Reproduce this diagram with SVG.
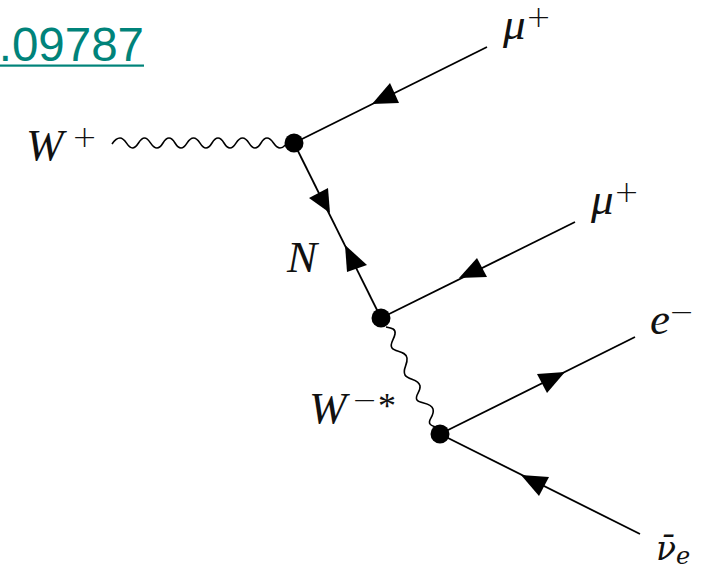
<svg xmlns="http://www.w3.org/2000/svg" width="717" height="569" viewBox="0 0 717 569">
<style>
.l{fill:none;stroke:#000;stroke-width:1.8}
.w{fill:none;stroke:#000;stroke-width:1.6;stroke-linejoin:round}
.a{fill:#000;stroke:none}
.v{fill:#000}
.t{font-family:"Liberation Serif",serif;font-style:italic;font-size:45px;fill:#111}
.s{font-family:"DejaVu Sans",sans-serif;font-style:normal;font-weight:200;font-size:30px;fill:#111}
.k{font-family:"Liberation Serif",serif;font-style:normal;font-size:36px;fill:#111}
.n{font-family:"DejaVu Serif",serif;font-style:italic;font-size:33px;fill:#111}
.u{font-family:"DejaVu Serif",serif;font-style:italic;font-size:24px;fill:#111}
.m{font-family:"Liberation Sans",Arial,sans-serif;font-size:47.5px;fill:#00837a}
</style>
<rect width="717" height="569" fill="#fff"/>
<g id="link">
<text class="m" x="144" y="61" text-anchor="end">.09787</text>
<rect x="0" y="64.5" width="144" height="2.2" fill="#00837a"/>
</g>
<g id="connectors">
<line class="l" x1="294" y1="143" x2="487" y2="47"/>
<polygon class="a" points="372,104 390,83 399,103"/>
<line class="l" x1="294" y1="143" x2="381" y2="318"/>
<polygon class="a" points="330,213 309,198 328,188"/>
<polygon class="a" points="345,245 347,272 367,265"/>
<line class="l" x1="381" y1="318" x2="575" y2="222"/>
<polygon class="a" points="459,278 477,258 487,277"/>
<line class="l" x1="440" y1="434" x2="635" y2="337"/>
<polygon class="a" points="565,372 537,374 547,393"/>
<line class="l" x1="440" y1="434" x2="640" y2="534"/>
<polygon class="a" points="521,475 549,477 539,496"/>
<path class="w" d="M112,144 Q116,138 120,138 C126,138 127,148 132.500,148 C138,148 139,138 144.500,138 C150,138 151,148 157,148 C163,148 163,138 169,138 C175,138 175,148 181,148 C187,148 187,138 193.500,138 C200,138 200,148 206,148 C212,148 212,138 218,138 C224,138 224,148 230,148 C236,148 236,138 242.500,138 C249,138 249,148 255,148 C261,148 261,138 267,138 C273,138 274,148 280,148 C286,148 285,140 294,143"/>
<path class="w" d="M386,327 C392,328 396,329 395,334 C394,340 389,344 392,348 C395,352 406,351 407,358 C408,365 402,369 405,375 C408,380 419,379 420,386 C421,392 414,396 417,400 C420,404 431,402 433,409 C435,416 427,420 430,424 C431,426 433,426 436,427"/>
</g>
<g id="v1"><circle class="v" cx="294" cy="143" r="9.500"/></g>
<g id="v2"><circle class="v" cx="381" cy="318" r="9.500"/></g>
<g id="v3"><circle class="v" cx="440" cy="434" r="9.500"/></g>
<g id="W-plus"><text class="t" x="26" y="160">W<tspan class="s" x="72" y="147">+</tspan></text></g>
<g id="mu1"><text class="t" x="503" y="39">μ<tspan class="s" x="526" y="27">+</tspan></text></g>
<g id="mu2"><text class="t" x="591" y="214">μ<tspan class="s" x="614" y="202">+</tspan></text></g>
<g id="N"><text class="t" x="287" y="272">N</text></g>
<g id="W-star"><text class="t" x="309" y="423">W<tspan class="s" x="352" y="410">−</tspan><tspan class="k" x="378" y="418">*</tspan></text></g>
<g id="e-minus"><text class="t" x="650" y="334">e<tspan class="s" x="669" y="322">−</tspan></text></g>
<g id="nu-bar"><text class="n" x="656" y="560">ν̄<tspan class="u" x="676" y="564">e</tspan></text></g>
</svg>
